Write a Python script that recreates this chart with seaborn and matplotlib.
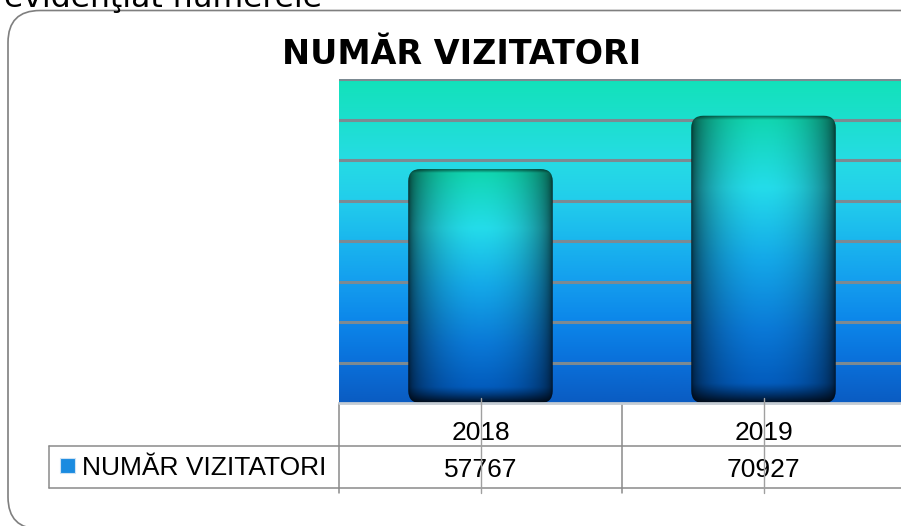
import numpy as np
import pandas as pd
import matplotlib
matplotlib.use('Agg')
import matplotlib.pyplot as plt
import seaborn as sns
from matplotlib.patches import FancyBboxPatch, Rectangle
from matplotlib.colors import LinearSegmentedColormap

# date
years = ['2018', '2019']
visitors = [57767, 70927]
series_name = 'NUMĂR VIZITATORI'
y_ticks = [10000, 20000, 30000, 40000, 50000, 60000, 70000, 80000]

df = pd.DataFrame({'an': years, 'vizitatori': visitors})

sns.set_theme(style='white')
plt.rcParams['font.family'] = ['DejaVu Sans']
plt.rcParams['text.color'] = 'black'

W, H = 901, 526
fig = plt.figure(figsize=(W / 100, H / 100), dpi=100)
fig.patch.set_facecolor('white')
ax = fig.add_axes([339 / W, 1 - 403 / H, 566 / W, 324 / H])

sns.barplot(data=df, x='an', y='vizitatori', ax=ax, width=0.51, color='#1a9be0')
ax.set_xlim(-0.5, 1.5)
ax.set_ylim(0, y_ticks[-1])

# fundal cu gradient
bg_cmap = LinearSegmentedColormap.from_list('bg', [
    (0.0, '#0a5cc2'), (0.125, '#0a70da'), (0.25, '#0c86ea'), (0.375, '#149eee'),
    (0.5, '#1ab6ee'), (0.625, '#22cdec'), (0.75, '#26dce4'), (0.875, '#1cdfce'),
    (1.0, '#12e2ba')])
grad = np.linspace(0, 1, 256).reshape(-1, 1)
ax.imshow(grad, cmap=bg_cmap, extent=[-0.5, 1.5, 0, y_ticks[-1]], origin='lower',
          aspect='auto', zorder=0.1)

ax.set_yticks(y_ticks)
ax.set_axisbelow(True)
ax.yaxis.grid(True, color='#7c8a92', lw=2.2)
ax.xaxis.grid(False)
ax.tick_params(length=0, labelleft=False, labelbottom=False)
ax.set_xlabel('')
ax.set_ylabel('')
for s in ax.spines.values():
    s.set_visible(False)
ax.axhline(0, color='#c4ccd4', lw=2, clip_on=False, zorder=3)

# bare tip cilindru
bar_cmap = LinearSegmentedColormap.from_list('bar', [
    (0.0, '#10d6ae'), (0.25, '#24dcea'), (0.5, '#14a8e8'), (0.75, '#0a78d6'), (1.0, '#0052b4')])
nh, nw = 300, 140
v = np.linspace(0, 1, nh)[:, None]
u = np.linspace(0, 1, nw)[None, :]
base = bar_cmap(np.repeat(v, nw, axis=1))[..., :3]
side = 0.12 + 0.88 * np.clip(np.sin(np.pi * u), 0, 1) ** 0.38
bottom = 1 - 0.8 * np.clip((v - 0.93) / 0.07, 0, 1) ** 1.3
top = 1 - 0.5 * np.clip((0.015 - v) / 0.015, 0, 1)
bar_rgb = np.clip(base * (side * bottom * top)[..., None], 0, 1)

bbox = ax.get_window_extent()
px_x = bbox.width / 2.0
px_y = bbox.height / y_ticks[-1]
for p in list(ax.patches):
    x0, w, h = p.get_x(), p.get_width(), p.get_height()
    p.set_visible(False)
    box = FancyBboxPatch((x0, 0), w, h, boxstyle=f'round,pad=0,rounding_size={12 / px_x}',
                         mutation_aspect=px_x / px_y, transform=ax.transData,
                         fc='none', ec='none')
    ax.add_patch(box)
    img = ax.imshow(bar_rgb, extent=[x0, x0 + w, 0, h], aspect='auto', zorder=2)
    img.set_clip_path(box)

ax.set_xlim(-0.5, 1.5)
ax.set_ylim(0, y_ticks[-1])

# tabel de date sub grafic
line_c = '#8a8a8a'
xt = ax.get_xaxis_transform()
ax.plot([-0.512, 1.0], [-0.133, -0.133], color=line_c, lw=1.1, transform=ax.transAxes, clip_on=False)
ax.plot([-0.512, 1.0], [-0.262, -0.262], color=line_c, lw=1.1, transform=ax.transAxes, clip_on=False)
ax.plot([-0.512, -0.512], [-0.133, -0.262], color=line_c, lw=1.1, transform=ax.transAxes, clip_on=False)
for xb in [-0.5, 0.5, 1.5]:
    ax.plot([xb, xb], [0, -0.278], color=line_c, lw=1.1, transform=xt, clip_on=False)
for i in range(len(years)):
    ax.plot([i, i], [0.015, -0.278], color='#a0a0a0', lw=1, transform=xt, clip_on=False, zorder=4)
    ax.text(i, -0.114, years[i], transform=xt, ha='center', va='baseline',
            fontsize=19, family='Liberation Sans', clip_on=False)
    ax.text(i, -0.228, str(visitors[i]), transform=xt, ha='center', va='baseline',
            fontsize=19, family='Liberation Sans', clip_on=False)

ax.add_patch(Rectangle((-0.493, -0.216), 0.027, 0.046, transform=ax.transAxes,
                       fc='#1a8be0', ec='#cfe3f4', lw=0.8, clip_on=False))
ax.text(-0.454, -0.222, series_name, transform=ax.transAxes, ha='left', va='baseline',
        fontsize=19, family='Liberation Sans', clip_on=False)

# titlu si chenar
fig.text(462 / W, 1 - 64 / H, series_name, ha='center', va='baseline',
         fontsize=24, fontweight='bold')
fig.text(0.004, 1 - 7 / H, 'evidenţiat numerele', ha='left', va='baseline', fontsize=22.6)
fig.add_artist(FancyBboxPatch((0.08, -0.03), 9.3, 5.185, boxstyle='round,pad=0,rounding_size=0.32',
                              transform=fig.dpi_scale_trans, fill=False, ec='#7f7f7f', lw=1.2))

fig.savefig('out.png', dpi=100)
